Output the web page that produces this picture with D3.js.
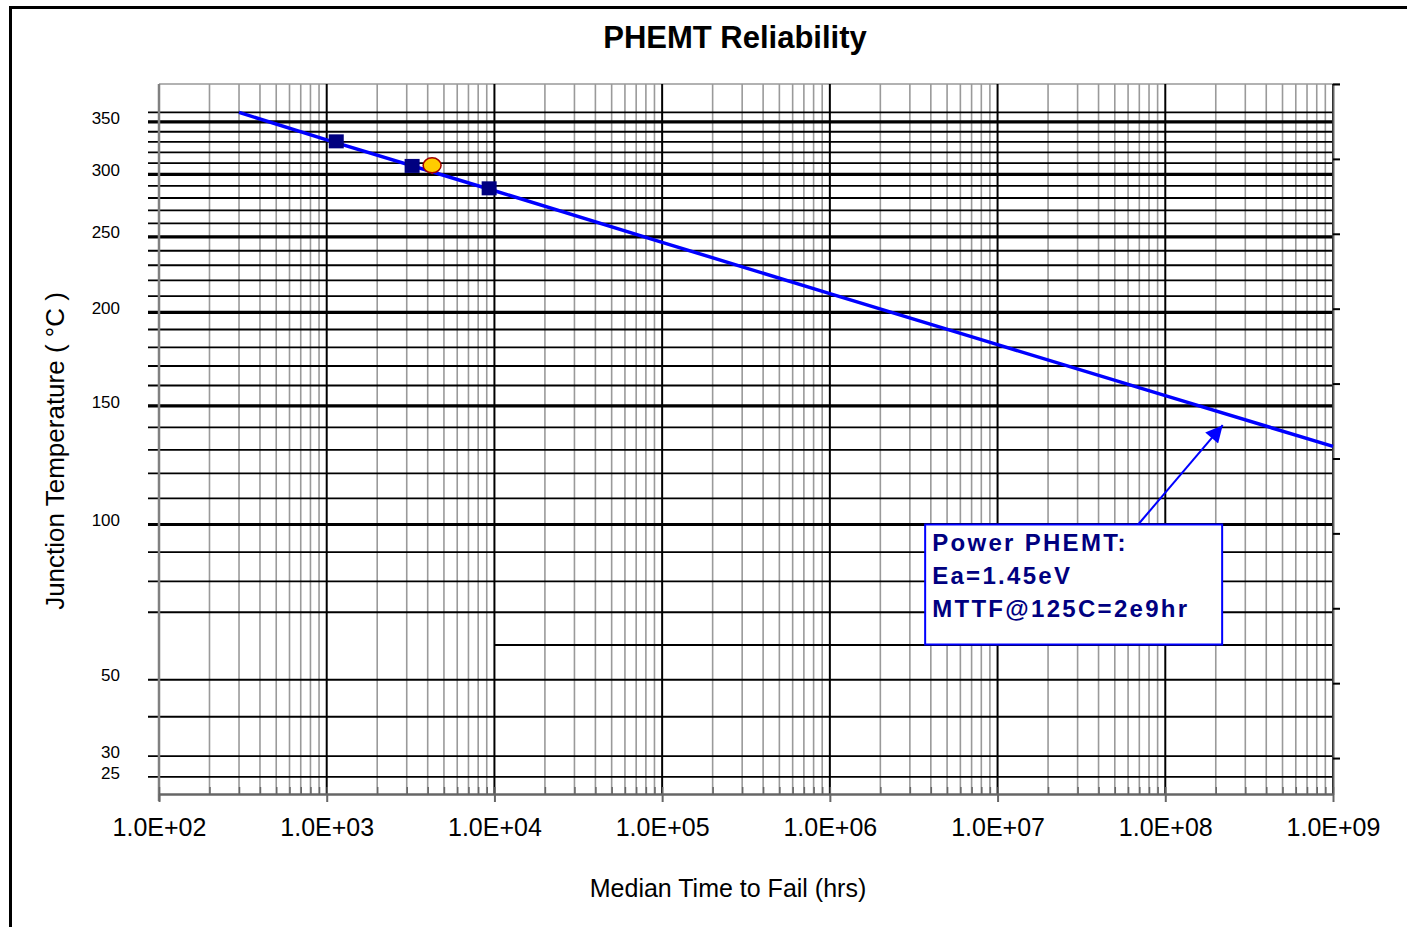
<!DOCTYPE html>
<html lang="en">
<head>
    <meta charset="UTF-8">
    <title>PHEMT Reliability</title>
    <script src="https://d3js.org/d3.v7.min.js"></script>
    <style>
        body {
            margin: 0;
            background-color: #ffffff;
            font-family: 'Liberation Sans', Arial, sans-serif;
        }
        .title {
            font-size: 31px;
            font-weight: bold;
        }
        .axis-title {
            font-size: 25px;
        }
        .y-title {
            font-size: 26px;
        }
        .x-axis text {
            font-size: 25px;
            fill: #000;
        }
        .y-label {
            font-size: 17px;
        }
        .note {
            font-size: 24px;
            font-weight: bold;
            fill: #000080;
            letter-spacing: 2.3px;
        }
    </style>
</head>
<body>
    <svg id="chart"></svg>

    <script>
        // x axis decades (hours)
        const decades = [1e2, 1e3, 1e4, 1e5, 1e6, 1e7, 1e8, 1e9];
        const minorSteps = [2, 3, 4, 5, 6, 7, 8, 9];

        // temperature grid (deg C) and its labels
        const majorTemps = [350, 300, 250, 200, 150, 100];
        const minorTemps = [360, 340, 330, 320, 310, 290, 280, 270, 260, 240, 230, 220, 210,
                            190, 180, 170, 160, 140, 130, 120, 110, 90, 80, 70, 50, 40, 30, 25];
        const partialTemps = [60];
        const tempLabels = [350, 300, 250, 200, 150, 100, 50, 30, 25];

        // fitted Arrhenius line
        const fitHours = [3.0e2, 1e3, 1e4, 1e5, 1e6, 1e7, 1e8, 1e9];
        const fitTemps = [360, 332, 286, 246, 211.5, 181.5, 155, 131.5];

        // test points
        const testHours = [1140, 3230, 9300];
        const testTemps = [330.5, 307.5, 288];
        const extraHours = [4250];
        const extraTemps = [308];

        // secondary (right) axis ticks
        const rightTicks = [0, 1, 2, 3, 4, 5, 6, 7, 8, 9];

        const noteLines = ["Power PHEMT:", "Ea=1.45eV", "MTTF@125C=2e9hr"];

        const margin = {top: 84, right: 74, bottom: 133, left: 159};
        const W = 1407, H = 927;
        const width = W - margin.left - margin.right;
        const height = H - margin.top - margin.bottom;

        const root = d3.select("#chart")
            .attr("width", W)
            .attr("height", H);

        // outer frame
        root.append("rect")
            .attr("x", 10.5).attr("y", 7.5)
            .attr("width", W + 20).attr("height", H + 20)
            .attr("fill", "none")
            .attr("stroke", "#000")
            .attr("stroke-width", 3);

        root.append("text")
            .attr("class", "title")
            .attr("x", 735)
            .attr("y", 48)
            .attr("text-anchor", "middle")
            .text("PHEMT Reliability");

        const svg = root.append("g")
            .attr("transform", `translate(${margin.left},${margin.top})`);

        const x = d3.scaleLog()
            .domain([1e2, 1e9])
            .range([0, width]);

        // y axis is linear in 1/T (Kelvin)
        const inv = c => 1 / (c + 273.15);
        const yInv = d3.scaleLinear()
            .domain([inv(392), inv(21)])
            .range([0, height]);
        const y = c => yInv(inv(c));

        const y2 = d3.scaleLinear()
            .domain([0, 9.48])
            .range([0, height]);

        const minors = [];
        decades.slice(0, -1).forEach(d => minorSteps.forEach(m => minors.push(d * m)));

        // top border
        svg.append("line")
            .attr("x1", 0).attr("x2", width + 7)
            .attr("y1", 0).attr("y2", 0)
            .attr("stroke", "#999").attr("stroke-width", 1.5);

        // vertical grid
        svg.selectAll(".vminor")
            .data(minors)
            .enter().append("line")
            .attr("x1", d => x(d)).attr("x2", d => x(d))
            .attr("y1", 0).attr("y2", height)
            .attr("stroke", "#9a9a9a")
            .attr("stroke-width", 1.6);

        svg.selectAll(".vmajor")
            .data(decades.slice(1))
            .enter().append("line")
            .attr("x1", d => x(d)).attr("x2", d => x(d))
            .attr("y1", 0).attr("y2", height)
            .attr("stroke", "#000")
            .attr("stroke-width", 2);

        // horizontal grid
        svg.selectAll(".hminor")
            .data(minorTemps)
            .enter().append("line")
            .attr("x1", -11).attr("x2", width)
            .attr("y1", d => y(d)).attr("y2", d => y(d))
            .attr("stroke", "#000")
            .attr("stroke-width", 1.8);

        svg.selectAll(".hpartial")
            .data(partialTemps)
            .enter().append("line")
            .attr("x1", x(1e4)).attr("x2", width)
            .attr("y1", d => y(d)).attr("y2", d => y(d))
            .attr("stroke", "#000")
            .attr("stroke-width", 1.8);

        svg.selectAll(".hmajor")
            .data(majorTemps)
            .enter().append("line")
            .attr("x1", -11).attr("x2", width)
            .attr("y1", d => y(d)).attr("y2", d => y(d))
            .attr("stroke", "#000")
            .attr("stroke-width", 3.2);

        // left axis line
        svg.append("line")
            .attr("x1", 0).attr("x2", 0)
            .attr("y1", 0).attr("y2", height + 7)
            .attr("stroke", "#808080").attr("stroke-width", 2.5);

        // right axis
        const rAxis = svg.append("g")
            .attr("transform", `translate(${width},0)`)
            .call(d3.axisRight(y2).tickValues(rightTicks).tickSize(7).tickSizeOuter(0).tickFormat(""));
        rAxis.selectAll("path, line").attr("stroke", "#000").attr("stroke-width", 2);

        // x axis: inner minor ticks, crossing major ticks
        const xMinor = svg.append("g")
            .attr("transform", `translate(0,${height})`)
            .call(d3.axisBottom(x).tickValues(minors.concat(decades)).tickSize(-7).tickSizeOuter(0).tickFormat(""));
        const fmt = d => "1.0E+" + String(Math.round(Math.log10(d))).padStart(2, "0");
        const xAxis = svg.append("g")
            .attr("class", "x-axis")
            .attr("transform", `translate(0,${height})`)
            .call(d3.axisBottom(x).tickValues(decades).tickSize(8).tickSizeOuter(0).tickPadding(16).tickFormat(fmt));
        svg.selectAll(".x-axis path, .x-axis line, g path.domain")
            .attr("stroke", "#666").attr("stroke-width", 2);
        xMinor.selectAll("line").attr("stroke", "#666").attr("stroke-width", 1.5);
        xAxis.selectAll("text").attr("font-family", "'Liberation Sans', Arial, sans-serif");

        // y labels
        svg.selectAll(".y-label")
            .data(tempLabels)
            .enter().append("text")
            .attr("class", "y-label")
            .attr("x", -39)
            .attr("y", d => y(d))
            .attr("dy", "0.1em")
            .attr("text-anchor", "end")
            .text(d => d);

        // fit line
        const fit = fitHours.map((h, i) => [h, fitTemps[i]]);
        svg.append("path")
            .datum(fit)
            .attr("fill", "none")
            .attr("stroke", "#0000ff")
            .attr("stroke-width", 3.5)
            .attr("d", d3.line().x(d => x(d[0])).y(d => y(d[1])));

        // test points
        svg.selectAll(".sq")
            .data(testHours)
            .enter().append("rect")
            .attr("x", d => x(d) - 7.5)
            .attr("y", (d, i) => y(testTemps[i]) - 7)
            .attr("width", 15).attr("height", 14)
            .attr("fill", "#000080");

        svg.selectAll(".tri")
            .data(extraHours)
            .enter().append("path")
            .attr("transform", (d, i) => `translate(${x(d)},${y(extraTemps[i])}) rotate(180)`)
            .attr("d", d3.symbol().type(d3.symbolTriangle).size(110))
            .attr("fill", "#ff0000");

        svg.selectAll(".dot")
            .data(extraHours)
            .enter().append("ellipse")
            .attr("cx", d => x(d))
            .attr("cy", (d, i) => y(extraTemps[i]))
            .attr("rx", 9).attr("ry", 7.5)
            .attr("fill", "#ffcc00")
            .attr("stroke", "#a00000")
            .attr("stroke-width", 1.5);

        // annotation
        const boxX = x(3.7e6), boxY = y(100);
        const tipX = x(2.2e8), tipY = y(141);
        const startX = boxX + 213;

        root.append("defs").append("marker")
            .attr("id", "head")
            .attr("viewBox", "0 0 10 10")
            .attr("refX", 10).attr("refY", 5)
            .attr("markerWidth", 22).attr("markerHeight", 17)
            .attr("markerUnits", "userSpaceOnUse")
            .attr("orient", "auto")
            .append("path")
            .attr("d", "M0,0L10,5L0,10z")
            .attr("fill", "#0000ff");

        svg.append("line")
            .attr("x1", startX).attr("y1", boxY)
            .attr("x2", tipX).attr("y2", tipY)
            .attr("stroke", "#0000ff")
            .attr("stroke-width", 2)
            .attr("marker-end", "url(#head)");

        svg.append("rect")
            .attr("x", boxX).attr("y", boxY)
            .attr("width", 297).attr("height", 120)
            .attr("fill", "#fff")
            .attr("stroke", "#0000ff")
            .attr("stroke-width", 2);

        svg.selectAll(".note")
            .data(noteLines)
            .enter().append("text")
            .attr("class", "note")
            .attr("x", boxX + 7)
            .attr("y", (d, i) => boxY + 26 + i * 33)
            .text(d => d);

        // axis titles
        root.append("text")
            .attr("class", "axis-title")
            .attr("x", 728)
            .attr("y", 897)
            .attr("text-anchor", "middle")
            .text("Median Time to Fail (hrs)");

        root.append("text")
            .attr("class", "y-title")
            .attr("transform", "translate(64,451) rotate(-90)")
            .attr("text-anchor", "middle")
            .text("Junction Temperature ( °C )");
    </script>
</body>
</html>
